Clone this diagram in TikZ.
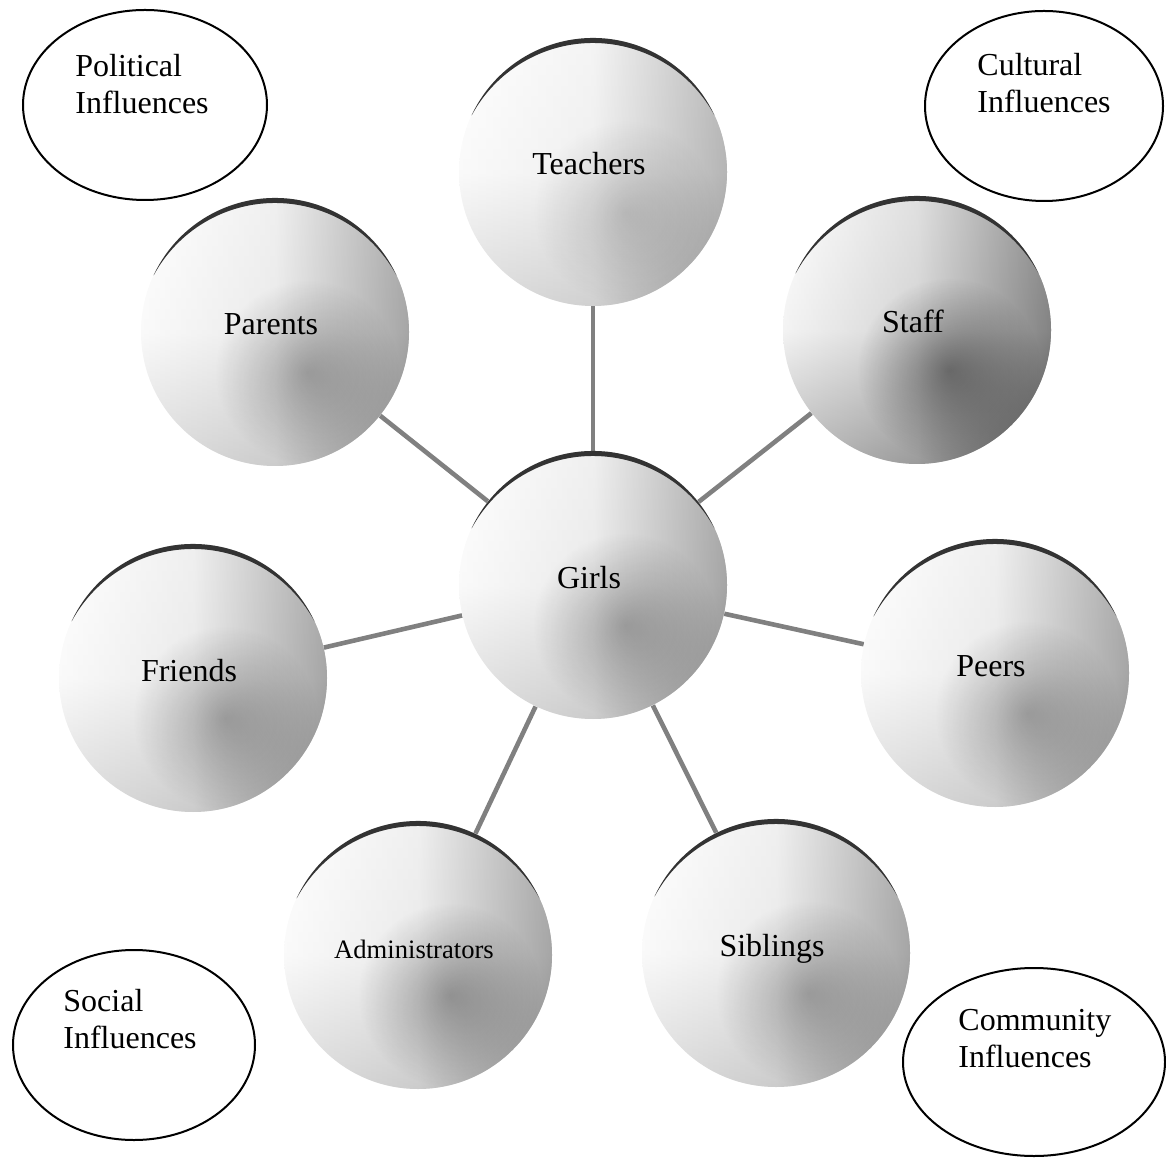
\documentclass[tikz,border=0pt]{standalone}
\usepackage{fontspec}
\setmainfont{Liberation Serif}
\usetikzlibrary{shapes.geometric,fadings}
\pgfdeclarelayer{bg}
\pgfdeclarelayer{fg}
\pgfsetlayers{bg,main,fg}
\tikzfading[name=softblob, inner color=transparent!0, outer color=transparent!100]
\newcommand\orblabel[1]{\raisebox{-3pt}{\smash{#1}}\hspace*{4pt}}
\tikzset{
  orbnode/.style={circle, minimum size=134pt, inner sep=0pt,
    left color=white, right color=black!55, middle color=black!10},
  orbdark/.style={left color=white, right color=black!80, middle color=black!22},
  orblight/.style={left color=white, right color=black!45, middle color=black!7},
  vshade/.style={top color=white, bottom color=black!35, middle color=black!5, opacity=0.4},
  vshadedark/.style={top color=white, bottom color=black!60, middle color=black!10, opacity=0.45},
  blob/.style={fill=black, opacity=0.26, path fading=softblob},
  rim/.style={fill=black!80},
  orblabelnode/.style={font=\fontsize{16}{18.5}\selectfont},
  infl/.style={ellipse, draw=black, line width=1pt, inner sep=0pt},
  infltext/.style={anchor=north west, inner sep=0pt, align=left,
    font=\fontsize{16}{18.5}\selectfont},
  conn/.style={draw=black!50, line width=2.3pt}
}
\begin{document}
\begin{tikzpicture}[x=0.5pt, y=-0.5pt]
\useasboundingbox (0,0) rectangle (1166,1159);

% influence ellipses
\node[infl, minimum width=122pt, minimum height=95pt] (pol) at (145,105) {};
\node[infltext] (polt) at (75,54) {Political\\Influences};
\node[infl, minimum width=119pt, minimum height=95pt] (cul) at (1044,106) {};
\node[infltext] (cult) at (977,53) {Cultural\\Influences};
\node[infl, minimum width=121pt, minimum height=95pt] (soc) at (134,1045) {};
\node[infltext] (soct) at (63,989) {Social\\Influences};
\node[infl, minimum width=131pt, minimum height=94pt] (com) at (1034,1062) {};
\node[infltext] (comt) at (958,1009) {Community\\Influences};

% orbs
\node[orbnode, orblight] (teachers) at (593,172) {};
\node[orbnode] (parents)  at (275,332) {};
\node[orbnode, orbdark] (staff) at (917,330) {};
\node[orbnode] (girls)    at (593,585) {};
\node[orbnode] (friends)  at (193,678) {};
\node[orbnode] (peers)    at (995,673) {};
\node[orbnode] (admin)    at (418,955) {};
\node[orbnode] (siblings) at (776,953) {};

% top-to-bottom shading, darker patch and dark top rim of each orb
\foreach \n/\vs/\op in {teachers/vshade/0.15, parents/vshade/0.26, staff/vshadedark/0.4,
    girls/vshade/0.26, friends/vshade/0.26, peers/vshade/0.26, admin/vshade/0.3, siblings/vshade/0.26} {
  \shade[\vs] (\n.center) circle (67pt);
  \begin{scope}
    \clip (\n.center) circle (67pt);
    \fill[blob, opacity=\op] ([shift={(16pt,-20pt)}]\n.center) circle (46pt);
  \end{scope}
  \fill[rim, shift={(\n.center)}]
    (155:67pt) arc[start angle=155, end angle=25, radius=67pt]
    arc[start angle=28.4, end angle=151.6, radius=69pt] -- cycle;
}

% labels
\begin{pgfonlayer}{fg}
\node[orblabelnode] (teachersl) at (teachers) {\orblabel{Teachers}};
\node[orblabelnode] (parentsl) at (parents) {\orblabel{Parents}};
\node[orblabelnode] (staffl) at (staff) {\orblabel{Staff}};
\node[orblabelnode] (girlsl) at (girls) {\orblabel{Girls}};
\node[orblabelnode] (friendsl) at (friends) {\orblabel{Friends}};
\node[orblabelnode] (peersl) at (peers) {\orblabel{Peers}};
\node[orblabelnode, font=\fontsize{13.3}{16}\selectfont] (adminl) at (admin) {\orblabel{Administrators}};
\node[orblabelnode] (siblingsl) at (siblings) {\orblabel{Siblings}};
\end{pgfonlayer}

\begin{pgfonlayer}{bg}
\draw[conn] (girls) -- (teachers);
\draw[conn] (girls) -- (parents);
\draw[conn] (girls) -- (staff);
\draw[conn] (girls) -- (friends);
\draw[conn] (girls) -- (peers);
\draw[conn] (girls) -- (admin);
\draw[conn] (girls) -- (siblings);
\end{pgfonlayer}
\end{tikzpicture}
\end{document}
